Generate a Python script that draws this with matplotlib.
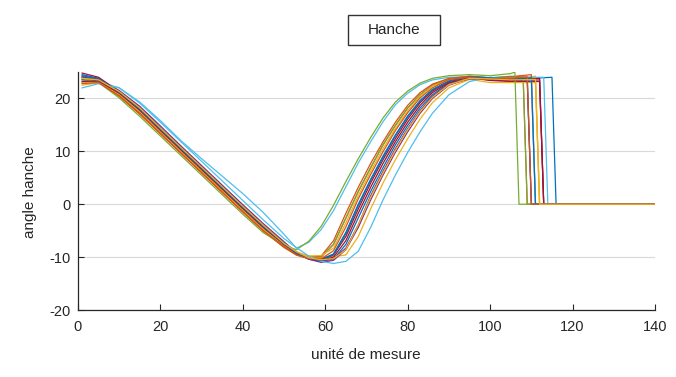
import matplotlib
matplotlib.use("Agg")
import matplotlib.pyplot as plt
from matplotlib.patches import Rectangle

plt.rcParams['font.family'] = ['Liberation Sans', 'DejaVu Sans']
plt.rcParams['axes.unicode_minus'] = False

# common sample positions (unité de mesure)
x_common = [1, 5, 10, 15, 20, 25, 30, 35, 40, 45, 50, 53, 56, 59, 62, 65, 68,
            71, 74, 77, 80, 83, 86, 90, 95, 100, 105]

# hip angle series
s00 = [24.5, 23.8, 21.25, 18.15, 14.4, 10.65, 6.95, 3.25, -0.45, -4.05, -7.35, -9.0, -10.1, -10.7, -10.4,
       -7.6, -2.6, 2.4, 6.9, 11.2, 14.9, 18.2, 20.7, 22.9, 23.8, 23.8, 23.6]
s01 = [23.0, 23.0, 20.4, 17.0, 13.3, 9.6, 5.9, 2.2, -1.5, -5.1, -8.2, -9.6, -10.3, -10.0, -7.6,
       -2.6, 2.4, 6.9, 11.2, 14.9, 18.2, 20.7, 22.5, 23.7, 24.0, 23.7, 24.0]
s02 = [22.5, 23.0, 21.0, 17.8, 14.0, 10.3, 6.6, 2.9, -0.8, -4.4, -7.6, -9.0, -9.8, -10.0, -9.9,
       -9.6, -6.1, -0.9, 4.0, 8.4, 12.4, 16.1, 19.2, 22.0, 23.6, 23.8, 23.6]
s03 = [24.0, 23.6, 21.5, 18.5, 14.8, 11.0, 7.3, 3.6, -0.1, -3.7, -7.1, -9.2, -10.4, -11.0, -10.6,
       -8.6, -4.4, 0.8, 5.5, 9.8, 13.7, 17.2, 20.0, 22.5, 23.8, 23.6, 23.3]
s04 = [23.6, 23.4, 20.7, 17.4, 13.6, 9.9, 6.2, 2.5, -1.2, -4.8, -7.9, -9.4, -10.0, -9.9, -7.6,
       -2.6, 2.4, 6.9, 11.2, 14.9, 18.2, 20.7, 22.5, 23.7, 24.2, 23.9, 24.2]
s05 = [23.0, 23.2, 22.0, 19.3, 15.8, 12.0, 8.6, 5.3, 2.0, -1.6, -5.7, -8.3, -7.2, -4.8, -1.2,
       3.3, 7.8, 11.8, 15.6, 18.8, 21.0, 22.6, 23.5, 24.0, 24.1, 23.8, 24.0]
s06 = [24.8, 24.0, 21.3, 18.2, 14.4, 10.7, 7.0, 3.3, -0.4, -4.0, -7.4, -9.1, -10.2, -10.6, -10.0,
       -6.9, -1.7, 3.2, 7.7, 11.8, 15.5, 18.7, 21.1, 23.0, 23.9, 23.4, 23.2]
s07 = [23.5, 23.4, 21.0, 17.8, 14.0, 10.3, 6.6, 2.9, -0.8, -4.4, -7.6, -9.2, -10.2, -10.4, -9.4,
       -5.3, 0.0, 4.7, 9.1, 13.1, 16.7, 19.6, 21.7, 23.3, 24.0, 23.8, 23.5]
s08 = [24.2, 23.5, 20.7, 17.4, 13.65, 9.95, 6.25, 2.55, -1.15, -4.75, -7.9, -9.4, -10.0, -9.8, -6.9,
       -1.7, 3.2, 7.7, 11.8, 15.5, 18.7, 21.1, 22.7, 23.8, 24.2, 23.9, 24.1]
s09 = [23.0, 23.0, 20.7, 17.4, 13.6, 9.9, 6.2, 2.5, -1.2, -4.8, -7.8, -9.2, -9.8, -9.7, -8.3,
       -3.5, 1.6, 6.2, 10.5, 14.3, 17.7, 20.4, 22.3, 23.5, 23.6, 23.0, 23.0]
s10 = [24.0, 23.8, 21.3, 18.2, 14.4, 10.7, 7.0, 3.3, -0.4, -4.0, -7.4, -9.2, -10.4, -10.8, -10.3,
       -8.3, -3.9, 1.6, 6.2, 10.5, 14.3, 17.7, 20.4, 22.7, 23.7, 23.6, 23.4]
s11 = [23.8, 23.0, 20.1, 16.6, 12.9, 9.2, 5.5, 1.8, -1.9, -5.4, -7.8, -8.6, -7.0, -4.2, -0.2,
       4.3, 8.6, 12.6, 16.3, 19.3, 21.4, 22.9, 23.8, 24.3, 24.5, 24.3, 24.7]
s12 = [22.0, 22.8, 22.0, 19.1, 15.5, 11.8, 8.1, 4.4, 0.7, -3.0, -6.5, -8.2, -9.8, -10.8, -11.2,
       -10.8, -8.9, -4.4, 0.8, 5.5, 9.8, 13.7, 17.2, 20.7, 23.2, 24.0, 23.7]
s13 = [23.2, 23.3, 21.0, 17.8, 14.0, 10.3, 6.6, 2.9, -0.8, -4.4, -7.6, -9.3, -10.3, -10.5, -9.6,
       -6.1, -0.9, 4.0, 8.4, 12.4, 16.1, 19.2, 21.4, 23.2, 23.9, 23.5, 23.4]
s14 = [24.3, 23.7, 21.2, 18.0, 14.2, 10.5, 6.8, 3.1, -0.6, -4.2, -7.5, -9.2, -10.3, -10.6, -9.5,
       -5.6, -0.3, 4.5, 8.8, 12.9, 16.5, 19.5, 21.6, 23.3, 24.1, 23.9, 23.7]
s15 = [22.8, 23.0, 20.5, 17.2, 13.4, 9.7, 6.0, 2.3, -1.4, -5.0, -8.0, -9.6, -10.3, -10.3, -8.8,
       -4.3, 1.0, 5.6, 9.9, 13.9, 17.3, 20.1, 22.0, 23.6, 24.0, 23.6, 23.8]
s16 = [23.8, 23.5, 21.3, 18.2, 14.4, 10.7, 7.0, 3.3, -0.4, -4.0, -7.4, -9.0, -10.1, -10.5, -10.3,
       -8.6, -3.9, 1.3, 5.9, 10.2, 14.1, 17.5, 20.2, 22.6, 23.8, 23.7, 23.5]

series = [s00, s01, s02, s03, s04, s05, s06, s07, s08, s09, s10, s11, s12, s13, s14, s15, s16]
# last recorded sample of each series, and its value; afterwards the signal is 0
end_x = [115, 108, 111, 112, 108, 113, 112, 109, 110, 111, 109, 106, 110, 112, 110, 109, 111]
end_y = [24.0, 24.3, 24.2, 23.5, 24.0, 24.0, 23.2, 23.8, 24.5, 23.0, 23.6, 25.0, 23.5, 23.8, 23.9, 24.1, 23.6]
x_max = 140

colors = ['#0072BD', '#D95319', '#EDB120', '#7E2F8E', '#77AC30', '#4DBEEE', '#A2142F']

fig = plt.figure(figsize=(6.76, 3.77), dpi=100)
ax = fig.add_axes([78/676, 1-310/377, (655-78)/676, (310-72)/377])

for i, s in enumerate(series):
    xs = x_common + [end_x[i], end_x[i] + 1, x_max]
    ys = s + [end_y[i], 0, 0]
    ax.plot(xs, ys, color=colors[i % 7], lw=0.9)

ax.set_xlim(0, 140)
ax.set_ylim(-20, 25)
ax.set_xticks([0, 20, 40, 60, 80, 100, 120, 140])
ax.set_yticks([-20, -10, 0, 10, 20])
ax.grid(axis='y', color='#d9d9d9', lw=0.8)
ax.set_axisbelow(True)
for sp in ['top', 'right']:
    ax.spines[sp].set_visible(False)
for sp in ['left', 'bottom']:
    ax.spines[sp].set_color('#262626')
    ax.spines[sp].set_linewidth(0.9)
ax.tick_params(axis='both', direction='in', length=4, width=0.8, color='#262626',
               labelsize=10.5, labelcolor='#262626')
ax.tick_params(axis='x', pad=7)
ax.tick_params(axis='y', pad=5)

fig.text(366/676, 1-355/377, 'unité de mesure', ha='center', va='center',
         fontsize=11, color='#262626')
fig.text(30/676, 1-192/377, 'angle hanche', ha='center', va='center',
         rotation=90, fontsize=11, color='#262626')

fig.patches.append(Rectangle((348/676, 1-45/377), 92/676, 30/377,
                             transform=fig.transFigure, fill=False,
                             edgecolor='#333333', lw=1.0))
fig.text(394/676, 1-30/377, 'Hanche', ha='center', va='center',
         fontsize=11, color='#262626')

fig.savefig('out.png', dpi=100)
